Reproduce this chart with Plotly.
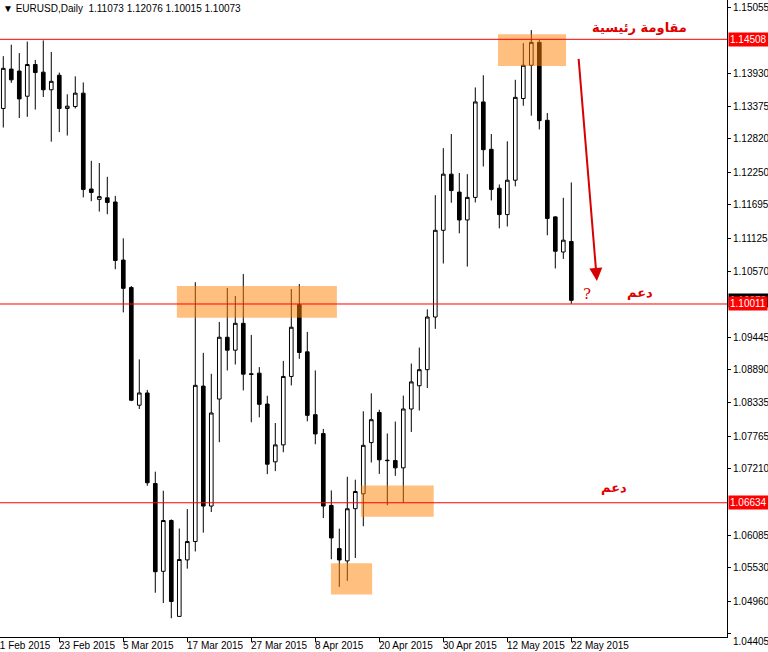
import plotly.graph_objects as go

# ---- data (EURUSD daily) ----
opens = [1.13333,1.14002,1.13969,1.13541,1.14080,1.13950,1.13651,1.13898,1.13333,1.13366,
         1.13593,1.11964,1.11789,1.11815,1.11744,1.10757,1.10290,1.08291,1.08499,1.06961,
         1.05469,1.06332,1.04703,1.05663,1.05975,1.08616,1.06578,1.08396,1.09446,1.09226,
         1.09683,1.08825,1.08836,1.08311,1.07329,1.07617,1.08780,1.10000,1.09198,1.08130,
         1.07809,1.06589,1.05855,1.05646,1.06533,1.06786,1.07656,1.08168,1.07357,1.07351,
         1.07227,1.08227,1.08622,1.08895,1.09790,1.11263,1.12217,1.11912,1.11439,1.11822,
         1.13444,1.12639,1.11977,1.11530,1.12114,1.13502,1.14067,1.14456,1.13132,1.11491,
         1.10894,1.11073]
highs = [1.14222,1.14417,1.14274,1.14469,1.14158,1.14489,1.14294,1.13943,1.13574,1.13879,
         1.13775,1.12444,1.12406,1.12172,1.11848,1.11127,1.10316,1.09070,1.08551,1.07162,
         1.06838,1.06351,1.06196,1.06527,1.10381,1.09181,1.08825,1.09706,1.10282,1.10147,
         1.10519,1.09486,1.08938,1.08452,1.07989,1.09045,1.10265,1.10350,1.09537,1.08882,
         1.07888,1.06843,1.06194,1.07075,1.07026,1.08188,1.08493,1.08214,1.07811,1.08013,
         1.08454,1.08999,1.09271,1.09920,1.11860,1.12659,1.12899,1.12237,1.12217,1.13690,
         1.13898,1.12899,1.12042,1.12775,1.13820,1.14443,1.14664,1.14495,1.13256,1.11504,
         1.11815,1.12076]
lows = [1.13009,1.13768,1.13171,1.13191,1.13314,1.13528,1.12769,1.12931,1.12873,1.13333,
        1.11822,1.11757,1.11581,1.11536,1.10602,1.09868,1.08360,1.08227,1.06922,1.05105,
        1.04930,1.04671,1.04697,1.05514,1.05806,1.06126,1.06476,1.07662,1.08882,1.08983,
        1.08543,1.08001,1.08085,1.07120,1.07171,1.07492,1.08627,1.09079,1.08018,1.07628,
        1.06374,1.05674,1.05205,1.05307,1.05696,1.06235,1.07318,1.07124,1.06591,1.07091,
        1.06637,1.07837,1.08201,1.08584,1.09589,1.10699,1.11731,1.11212,1.10647,1.11737,
        1.12347,1.11770,1.11296,1.11328,1.12010,1.13379,1.13210,1.12977,1.11179,1.10615,
        1.10777,1.10015]
closes = [1.14015,1.13820,1.13496,1.14080,1.13943,1.13651,1.13794,1.13333,1.13372,1.13593,
          1.11958,1.11906,1.11835,1.11737,1.10751,1.10277,1.08376,1.08499,1.06974,1.05462,
          1.06332,1.04956,1.05670,1.05975,1.08629,1.06578,1.08159,1.09446,1.09226,1.09683,
          1.08819,1.08815,1.08306,1.07289,1.07617,1.08780,1.09616,1.09187,1.08119,1.07803,
          1.06578,1.06036,1.05663,1.06532,1.06825,1.07610,1.08045,1.07364,1.07350,1.07227,
          1.08227,1.08687,1.08895,1.09790,1.11263,1.12217,1.11938,1.11439,1.11822,1.13444,
          1.12633,1.11958,1.11530,1.12114,1.13522,1.14067,1.14456,1.13126,1.11465,1.10907,
          1.11095,1.10073]
bar_index = list(range(len(opens)))

date_tick_index = [-1, 7, 15, 23, 31, 39, 47, 55, 63, 71]
date_tick_labels = ["11 Feb 2015", "23 Feb 2015", "5 Mar 2015", "17 Mar 2015", "27 Mar 2015",
                    "8 Apr 2015", "20 Apr 2015", "30 Apr 2015", "12 May 2015", "22 May 2015"]

price_ticks = [1.15055, 1.13930, 1.13375, 1.12820, 1.12250, 1.11695, 1.11125, 1.10570,
               1.09445, 1.08890, 1.08335, 1.07765, 1.07210, 1.06085, 1.05530, 1.04960, 1.04405]

level_prices = [1.14508, 1.10011, 1.06634]
current_price = 1.10073
title_text = "EURUSD,Daily  1.11073 1.12076 1.10015 1.10073"

# zones (x index range, price range)
zones = [(61.84, 70.34, 1.14054, 1.14592),
         (21.7, 41.7, 1.09779, 1.10316),
         (44.7, 53.8, 1.06397, 1.06929),
         (40.96, 46.1, 1.05073, 1.05605)]

FONT = "Liberation Sans"
X0, X1 = -0.41, 90.46
Y0, Y1 = 1.04353, 1.15176
PW, PH = 727, 637  # plot area in px

fig = go.Figure()
fig.add_trace(go.Candlestick(
    x=bar_index, open=opens, high=highs, low=lows, close=closes,
    increasing=dict(fillcolor="white", line=dict(color="black", width=1)),
    decreasing=dict(fillcolor="black", line=dict(color="black", width=1)),
    whiskerwidth=0, showlegend=False, hoverinfo="skip",
))

shapes = []
for (xa, xb, ya, yb) in zones:
    shapes.append(dict(type="rect", xref="x", yref="y", x0=xa, x1=xb, y0=ya, y1=yb,
                       fillcolor="rgba(255,128,0,0.5)", line=dict(width=0), layer="above"))
for p in level_prices:
    shapes.append(dict(type="line", xref="paper", yref="y", x0=0, x1=1, y0=p, y1=p,
                       line=dict(color="#FF0000", width=1), layer="above"))

ann = []
# current price label (black) then level labels (red)
ann.append(dict(xref="paper", yref="y", x=1, y=current_price, xanchor="left", yanchor="middle",
                xshift=1, text=f"{current_price:.5f}", showarrow=False, bgcolor="black",
                font=dict(family=FONT, size=10, color="white"), borderpad=1))
for p in level_prices:
    ann.append(dict(xref="paper", yref="y", x=1, y=p, xanchor="left", yanchor="middle",
                    xshift=1, text=f"{p:.5f}", showarrow=False, bgcolor="#FF0000",
                    font=dict(family=FONT, size=10, color="white"), borderpad=1))
# date labels (left aligned after their tick)
for xi, lab in zip(date_tick_index, date_tick_labels):
    ann.append(dict(xref="paper", yref="paper", x=(xi - X0) / (X1 - X0), y=0,
                    xanchor="left", yanchor="top",
                    xshift=-2, yshift=-1, text=lab, showarrow=False,
                    font=dict(family=FONT, size=10, color="black")))
# last price label sits lower (clamped at the bottom edge)
ann.append(dict(xref="paper", yref="y", x=1, y=price_ticks[-1], xanchor="left", yanchor="middle",
                xshift=4, yshift=-8, text=f"{price_ticks[-1]:.5f}", showarrow=False,
                font=dict(family=FONT, size=10, color="black")))
# title
ann.append(dict(xref="paper", yref="paper", x=0, y=1, xanchor="left", yanchor="top",
                xshift=1, yshift=-1, text="▼ " + title_text, showarrow=False,
                font=dict(family=FONT, size=10, color="black")))
# arabic annotations (RTL text renders right-anchored)
ann.append(dict(xref="paper", yref="paper", x=689/PW, y=1-18/PH, text="<b>مقاومة رئيسية</b>",
                showarrow=False, font=dict(family="DejaVu Sans", size=13, color="#E00000")))
ann.append(dict(xref="paper", yref="paper", x=655/PW, y=1-292/PH, text="<b>دعم</b>",
                showarrow=False, font=dict(family="DejaVu Sans", size=13, color="#E00000")))
ann.append(dict(xref="paper", yref="paper", x=629/PW, y=1-497/PH, text="<b>دعم</b>",
                showarrow=False, font=dict(family="DejaVu Sans", size=13, color="#E00000")))
ann.append(dict(xref="paper", yref="paper", x=593/PW, y=1-294/PH, text="?",
                showarrow=False, font=dict(family="DejaVu Serif", size=15, color="#E00000")))
# arrow
ann.append(dict(xref="x", yref="y", axref="x", ayref="y", x=74.2, y=1.10402, ax=71.9, ay=1.1420,
                text="", showarrow=True, arrowhead=2, arrowsize=1.3, arrowwidth=2,
                arrowcolor="#D80000"))

fig.update_layout(
    width=768, height=652,
    margin=dict(l=0, r=41, t=0, b=15, autoexpand=False),
    paper_bgcolor="white", plot_bgcolor="white",
    shapes=shapes, annotations=ann,
    boxgap=0.35,
    xaxis=dict(range=[X0, X1], rangeslider=dict(visible=False), showgrid=False, zeroline=False,
               tickvals=date_tick_index, showticklabels=False, ticks="outside", ticklen=4,
               tickcolor="black", showline=True, linecolor="black", linewidth=1,
               automargin=False),
    yaxis=dict(range=[Y0, Y1], side="right", showgrid=False, zeroline=False,
               tickvals=price_ticks,
               ticktext=[f"{v:.5f}" for v in price_ticks[:-1]] + [""],
               ticks="outside", ticklen=3, tickcolor="black",
               tickfont=dict(family=FONT, size=10, color="black"),
               showline=True, linecolor="black", linewidth=1, automargin=False),
)

fig.write_html("out.html", config={"displayModeBar": False},
               post_script="document.body.style.margin='0';document.body.style.overflow='hidden';")
